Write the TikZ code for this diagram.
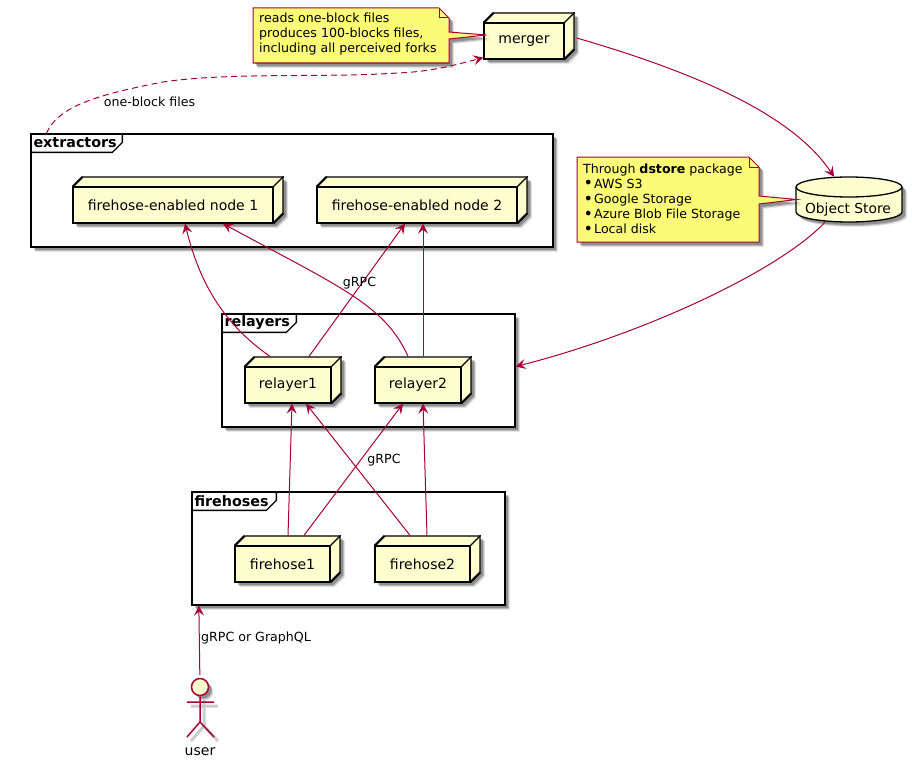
\documentclass[tikz,border=0pt]{standalone}
\usepackage{fontspec}
\setmainfont{DejaVu Sans}
\usetikzlibrary{arrows.meta}
\usetikzlibrary{shadows}
\definecolor{edgecol}{HTML}{A80036}
\definecolor{boxcol}{HTML}{FEFECE}
\definecolor{notecol}{HTML}{FBFB77}
\tikzset{
    softshadow/.style = {
        drop shadow={shadow xshift=5pt,shadow yshift=-5pt,fill=black,opacity=.10},
        drop shadow={shadow xshift=4pt,shadow yshift=-4pt,fill=black,opacity=.18},
        drop shadow={shadow xshift=3pt,shadow yshift=-3pt,fill=black,opacity=.24}},
    boxbody/.style = {draw=black,line width=1.3pt,fill=boxcol,line join=round,softshadow},
    boxfront/.style = {draw=black,line width=1.3pt,minimum height=36pt,inner sep=0pt,
        font=\fontsize{14}{16}\selectfont},
    grouping/.style = {draw=black,line width=1.3pt,fill=white,inner sep=0pt,softshadow},
    grouptitle/.style = {anchor=west,inner sep=0pt,font=\fontsize{14.3}{16}\selectfont\bfseries},
    notebody/.style = {draw=edgecol,line width=1pt,fill=notecol,softshadow},
    notefold/.style = {draw=edgecol,line width=1pt},
    notetext/.style = {anchor=north west,inner sep=0pt,align=left,
        font=\fontsize{12.6}{15.1}\selectfont},
    flow/.style = {draw=edgecol,line width=1pt,-{Stealth[inset=4pt,length=10pt,width=10pt]}},
    flowlabel/.style = {inner sep=0pt,font=\fontsize{12.6}{15}\selectfont},
}
% box with top and side faces, name / front centre / front width / text
\newcommand{\boxnode}[4]{
    \pgfmathsetmacro{\hw}{#3/2}
    \draw[boxbody,shift={(#2)}] (-\hw,18) -- (-\hw,-18) -- (-\hw+10,-28) -- (\hw+10,-28)
        -- (\hw+10,8) -- (\hw,18) -- cycle;
    \node[boxfront,minimum width=#3] (#1) at (#2) {#4};
    \draw[line width=1.3pt,line join=round] (#1.north west) -- ++(10,-10)
        (#1.north east) -- ++(10,-10) (#1.south east) -- ++(10,-10);
    \coordinate (#1 top) at ([yshift=10pt]#1.north);
}
% frame with title tab, name / centre / width / height / tab width / title
\newcommand{\groupbox}[6]{
    \node[grouping,minimum width=#3,minimum height=#4] (#1) at (#2) {};
    \draw[line width=1.3pt] ([xshift=#5]#1.north west) -- ++(0,9) -- ++(-10,10)
        -- ([yshift=-19pt]#1.north west);
    \node[grouptitle] (#1 title) at ([xshift=3pt,yshift=-9.5pt]#1.north west) {#6};
}
\newcommand{\notedot}{\makebox[11pt][l]{\hspace{.5pt}\raisebox{-.6pt}{\fontsize{16}{15}\selectfont •}}}
\begin{document}
\begin{tikzpicture}[x=1pt,y=-1pt]
    \useasboundingbox (0,0) rectangle (912,768);

    \groupbox{extractors}{292,190.5}{522}{113}{92pt}{extractors}
    \groupbox{relayers}{368.5,370.5}{293}{113}{75pt}{relayers}
    \groupbox{firehoses}{348.5,548.5}{313}{113}{85pt}{firehoses}

    \boxnode{merger}{524,41}{80}{merger}
    \boxnode{enabled1}{173,205}{200}{firehose-enabled node 1}
    \boxnode{enabled2}{417,205}{200}{firehose-enabled node 2}
    \boxnode{relayer1}{288,385}{86}{relayer1}
    \boxnode{relayer2}{418,385}{86}{relayer2}
    \boxnode{firehose1}{282.5,564}{95}{firehose1}
    \boxnode{firehose2}{422.5,564}{95}{firehose2}

    % database
    \draw[boxbody] (796,187) arc[start angle=180,end angle=0,x radius=53,y radius=-10]
        -- (902,212) arc[start angle=0,end angle=-180,x radius=53,y radius=-10] -- cycle;
    \draw[line width=1.3pt] (796,187) arc[start angle=180,end angle=360,x radius=53,y radius=-10];
    \node[minimum width=106pt,minimum height=45pt,inner sep=0pt] (store) at (849,199.5) {};
    \node[inner sep=0pt,font=\fontsize{13.8}{16}\selectfont] (storetext) at (848,210) {Object Store};

    % actor
    \draw[black,opacity=.2,line width=3pt] (204,700) -- (204,726) (191,706) -- (218,706)
        (191,741) -- (204,726) -- (218,741);
    \node[circle,draw=edgecol,line width=1.5pt,fill=boxcol,minimum size=17pt,inner sep=0pt,
        softshadow] (userhead) at (200,687) {};
    \coordinate (userhip) at (200,722);
    \draw[draw=edgecol,line width=1.5pt] (userhead) -- (userhip)
        (187,702) -- (214,702)
        (187,737) -- (userhip) -- (214,737);
    \node[inner sep=0pt,font=\fontsize{14}{16}\selectfont] (user) at (200,752) {user};

    % notes
    \draw[notebody] (253,8) -- (439,8) -- (449,18) -- (449,32) -- ([xshift=3pt,yshift=6pt]merger.west)
        -- (449,39) -- (449,63) -- (253,63) -- cycle;
    \draw[notefold] (439,8) -- (439,18) -- (449,18);
    \node[notetext] (mergernote) at (259,13) {reads one-block files\\produces 100-blocks files,\\including all perceived forks};

    \draw[notebody] (577,157) -- (749,157) -- (759,167) -- (759,196) -- ([xshift=1pt]store.west)
        -- (759,204) -- (759,242) -- (577,242) -- cycle;
    \draw[notefold] (749,157) -- (749,167) -- (759,167);
    \node[notetext] (storenote) at (583,163.5) {Through \textbf{dstore} package\\
        \notedot AWS S3\\\notedot Google Storage\\
        \notedot Azure Blob File Storage\\\notedot Local disk};

    % connectors
    \draw[flow,dash pattern=on 6pt off 4pt] ([xshift=16pt]extractors.north west)
        .. controls (58,108) and (90,96) .. (163,82)
        .. controls (230,72) and (330,78) .. (397,73)
        .. controls (430,72) and (455,65) .. ([yshift=2pt]merger.south west);
    \node[flowlabel] (blocklabel) at (149.5,102) {one-block files};
    \draw[flow] ([xshift=12pt,yshift=3pt]merger.east) .. controls (680,68) and (790,110) .. ([xshift=-15pt]store.north);
    \draw[flow] ([xshift=-24pt]store.south) .. controls (778,272) and (640,335) .. ([yshift=4pt]relayers.east);

    \draw[flow] ([xshift=-18pt]relayer1 top) .. controls (225,325) and (200,285) .. ([xshift=12pt]enabled1.south);
    \draw[flow] ([xshift=21pt]relayer1 top) -- ([xshift=-12pt]enabled2.south);
    \draw[flow] ([xshift=-10pt]relayer2 top) .. controls (385,305) and (340,287) .. ([xshift=50pt]enabled1.south);
    \draw[flow] ([xshift=5pt]relayer2 top) -- ([xshift=6pt]enabled2.south);
    \node[flowlabel] (relaylabel) at (359.5,283.5) {gRPC};

    \draw[flow] ([xshift=5.5pt]firehose1 top) -- ([xshift=4pt]relayer1.south);
    \draw[flow] ([xshift=21.5pt]firehose1 top) -- ([xshift=-15pt]relayer2.south);
    \draw[flow] ([xshift=-12.5pt]firehose2 top) -- ([xshift=18pt]relayer1.south);
    \draw[flow] ([xshift=4.5pt]firehose2 top) -- ([xshift=5pt]relayer2.south);
    \node[flowlabel] (firelabel) at (384,460.5) {gRPC};

    \draw[flow,shorten <=3pt] (userhead) -- ([xshift=7.5pt]firehoses.south west);
    \node[flowlabel,anchor=west] (userlabel) at (201,638.5) {gRPC or GraphQL};
\end{tikzpicture}
\end{document}
